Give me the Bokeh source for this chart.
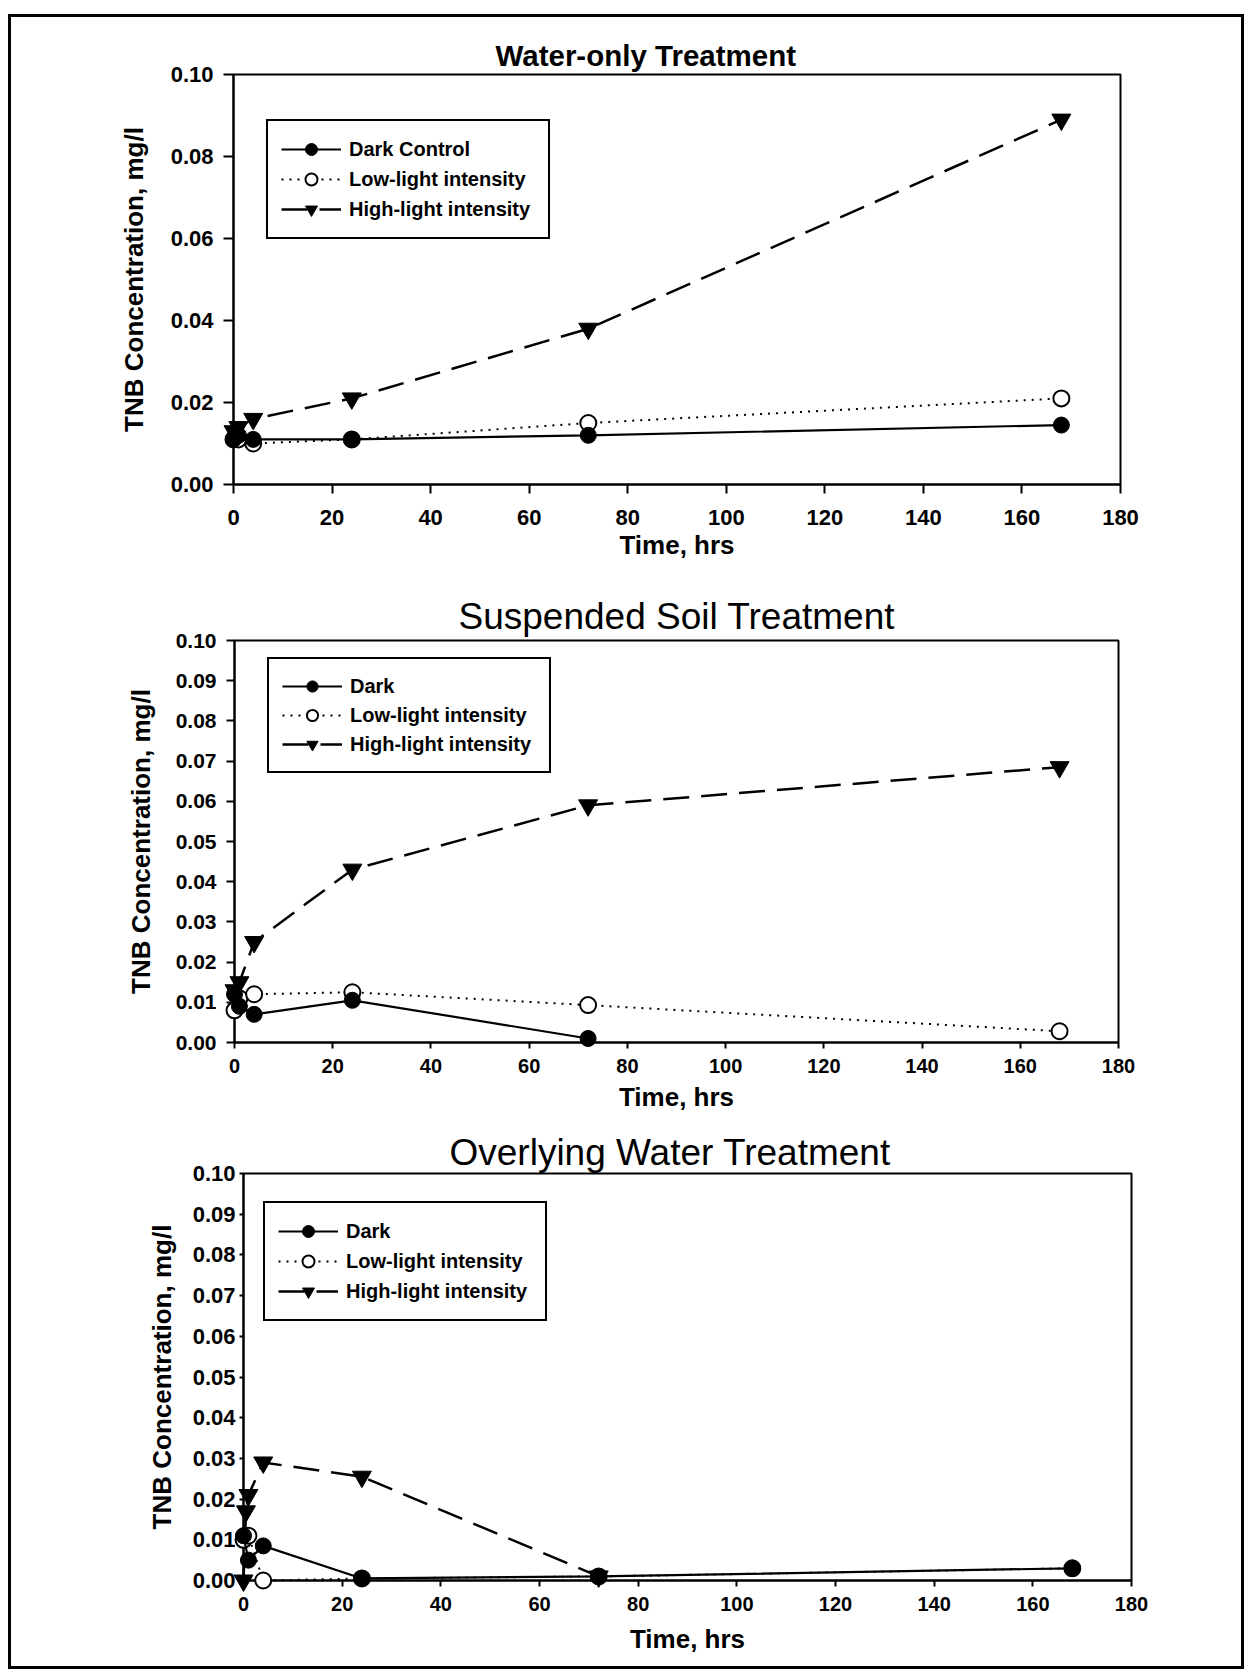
from bokeh.plotting import figure
from bokeh.models import Range1d, FixedTicker, PrintfTickFormatter, Legend, LegendItem
from bokeh.embed import file_html
from bokeh.resources import INLINE

FONT = "Liberation Sans"

# ---------------- data ----------------
x_ticks = [0, 20, 40, 60, 80, 100, 120, 140, 160, 180]
y_ticks_wo = [0.00, 0.02, 0.04, 0.06, 0.08, 0.10]
y_ticks_01 = [0.00, 0.01, 0.02, 0.03, 0.04, 0.05, 0.06, 0.07, 0.08, 0.09, 0.10]

# Water-only treatment
wo_time = [0, 1, 4, 24, 72, 168]
wo_dark = [0.011, 0.012, 0.011, 0.011, 0.012, 0.0145]
wo_low = [0.011, 0.011, 0.010, 0.011, 0.015, 0.021]
wo_high = [0.013, 0.014, 0.016, 0.021, 0.038, 0.089]

# Suspended soil treatment
ss_time = [0, 1, 4, 24, 72, 168]
ss_dark_time = [0, 1, 4, 24, 72]
ss_dark = [0.012, 0.009, 0.007, 0.0105, 0.001]
ss_low = [0.008, 0.011, 0.012, 0.0125, 0.0093, 0.0028]
ss_high = [0.013, 0.015, 0.025, 0.043, 0.059, 0.0685]

# Overlying water treatment
ow_time = [0, 1, 4, 24, 72, 168]
ow_dark = [0.011, 0.005, 0.0085, 0.0005, 0.001, 0.003]
ow_low = [0.010, 0.011, 0.000, 0.0005, 0.001, 0.003]
ow_high_time = [0, 0.5, 1, 4, 24, 72]
ow_high = [0.000, 0.017, 0.021, 0.029, 0.0255, 0.001]

FIG_W = 1230
SIDES = "-3px 0 0 0 black, 3px 0 0 0 black"
TOP = ", 0 -3px 0 0 black, -3px -3px 0 0 black, 3px -3px 0 0 black"
BOTTOM = ", 0 3px 0 0 black, -3px 3px 0 0 black, 3px 3px 0 0 black"


def panel(title, t_dark, dark, t_low, low, t_high, high, dark_label, yticks, cfg):
    p = figure(width=FIG_W, height=cfg["h"], x_range=Range1d(0, 180), y_range=Range1d(0, 0.1),
               output_backend="svg", toolbar_location=None,
               min_border_left=cfg["bl"], min_border_right=cfg["br"],
               min_border_top=cfg["bt"], min_border_bottom=cfg["bb"],
               margin=cfg["margin"],
               styles={"box-shadow": cfg["shadow"]})
    p.title.text = title
    p.title.text_font = FONT
    p.title.text_font_size = cfg["title_size"]
    p.title.text_font_style = cfg["title_style"]
    p.title.align = "left"
    p.title.offset = cfg["title_off"]
    p.title.standoff = cfg["title_standoff"]
    p.title.text_color = "black"

    p.xgrid.visible = False
    p.ygrid.visible = False
    p.outline_line_color = "black"
    p.outline_line_width = 2
    p.outline_line_alpha = 1
    p.background_fill_color = "white"
    p.border_fill_color = "white"

    for ax in (p.xaxis[0], p.yaxis[0]):
        ax.axis_line_width = 2
        ax.axis_line_color = "black"
        ax.major_tick_line_width = 2
        ax.major_tick_line_color = "black"
        ax.minor_tick_line_color = None
        ax.major_tick_in = 0
        ax.major_label_text_font = FONT
        ax.major_label_text_font_style = "bold"
        ax.major_label_text_color = "black"
        ax.axis_label_text_font = FONT
        ax.axis_label_text_font_style = "bold"
        ax.axis_label_text_color = "black"

    xa = p.xaxis[0]
    xa.ticker = FixedTicker(ticks=x_ticks)
    xa.major_tick_out = cfg["xtick_out"]
    xa.major_label_standoff = cfg["x_std"]
    xa.major_label_text_font_size = cfg["tick_size"]
    xa.axis_label = "Time, hrs"
    xa.axis_label_text_font_size = "26px"
    xa.axis_label_standoff = cfg["x_lab_std"]

    ya = p.yaxis[0]
    ya.ticker = FixedTicker(ticks=yticks)
    ya.formatter = PrintfTickFormatter(format="%.2f")
    ya.major_tick_out = cfg["ytick_out"]
    ya.major_label_standoff = cfg["y_std"]
    ya.major_label_text_font_size = cfg["ytick_size"]
    ya.axis_label = "TNB Concentration, mg/l"
    ya.axis_label_text_font_size = "26px"
    ya.axis_label_standoff = cfg["y_lab_std"]

    hl = p.line(t_high, high, line_color="black", line_width=2.5, line_dash="26 12")
    hs = p.scatter(t_high, high, marker="inverted_triangle", size=19, fill_color="black", line_color="black")
    ll = p.line(t_low, low, line_color="black", line_width=2, line_dash="2 6")
    ls = p.scatter(t_low, low, marker="circle", size=16, fill_color="white", line_color="black", line_width=2)
    dl = p.line(t_dark, dark, line_color="black", line_width=2.2)
    ds = p.scatter(t_dark, dark, marker="circle", size=16, fill_color="black", line_color="black")
    for r in (hl, hs, ll, ls, dl, ds):
        r.level = "overlay"

    legend = Legend(items=[
        LegendItem(label=dark_label, renderers=[dl, ds]),
        LegendItem(label="Low-light intensity", renderers=[ll, ls]),
        LegendItem(label="High-light intensity", renderers=[hl, hs]),
    ], location=cfg["leg_loc"])
    legend.margin = 0
    legend.padding = 13
    legend.glyph_width = 60
    legend.glyph_height = cfg["leg_h"]
    legend.label_height = cfg["leg_h"]
    legend.label_width = 186
    legend.spacing = cfg["leg_sp"]
    legend.label_standoff = 8
    legend.label_text_font = FONT
    legend.label_text_font_style = "bold"
    legend.label_text_font_size = "20px"
    legend.label_text_color = "black"
    legend.border_line_color = "black"
    legend.border_line_width = 2
    legend.border_line_alpha = 1
    legend.background_fill_color = "white"
    legend.background_fill_alpha = 1
    p.add_layout(legend, "center")
    return p


p1 = panel("Water-only Treatment", wo_time, wo_dark, wo_time, wo_low, wo_time, wo_high,
           "Dark Control", y_ticks_wo,
           dict(h=560, bl=222, br=121, bt=57, bb=93, title_size="29.5px", title_style="bold",
                title_off=262, title_standoff=6, xtick_out=9, x_std=16, x_lab_std=2,
                tick_size="22px", ytick_size="22px", ytick_out=10, y_std=10, y_lab_std=19,
                leg_loc=(33, 245), leg_h=30, leg_sp=0, shadow=SIDES + TOP,
                margin=(17, 0, 0, 11)))

p2 = panel("Suspended Soil Treatment", ss_dark_time, ss_dark, ss_time, ss_low, ss_time, ss_high,
           "Dark", y_ticks_01,
           dict(h=538, bl=223, br=123, bt=63, bb=73, title_size="37px", title_style="normal",
                title_off=224, title_standoff=8, xtick_out=6, x_std=10, x_lab_std=6,
                tick_size="20px", ytick_size="21px", ytick_out=8, y_std=10, y_lab_std=17,
                leg_loc=(33, 269), leg_h=28, leg_sp=1, shadow=SIDES,
                margin=(0, 0, 0, 11)))

p3 = panel("Overlying Water Treatment", ow_time, ow_dark, ow_time, ow_low, ow_high_time, ow_high,
           "Dark", y_ticks_01,
           dict(h=551, bl=232, br=110, bt=58, bb=86, title_size="37px", title_style="normal",
                title_off=206, title_standoff=1, xtick_out=6, x_std=10, x_lab_std=10,
                tick_size="20px", ytick_size="22px", ytick_out=4, y_std=4, y_lab_std=13,
                leg_loc=(20, 259), leg_h=30, leg_sp=0, shadow=SIDES + BOTTOM,
                margin=(0, 0, 0, 11)))

open("out.html", "w").write(file_html([p1, p2, p3], INLINE))
